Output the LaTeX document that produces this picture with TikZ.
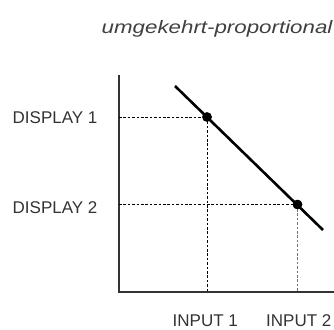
\documentclass[tikz,border=0pt]{standalone}
\usepackage{fontspec}
\setmainfont{Liberation Sans}
\usepackage{graphicx}
\begin{document}
\begin{tikzpicture}[x=1pt,y=-1pt,
  lbl/.style={inner sep=0pt,font=\fontsize{17}{20}\selectfont,text=black!80},
  axis/.style={line width=1.6pt,draw=black!80},
  curve/.style={line width=2.6pt,draw=black},
  guide/.style={line width=0.8pt,dash pattern=on 2.6pt off 1.8pt},
  dot/.style={circle,fill=black,inner sep=0pt,minimum size=9.5pt}]
\useasboundingbox (0,0) rectangle (334,329);
% axes
\coordinate (ytop) at (119,75);
\coordinate (orig) at (119,292);
\coordinate (xend) at (334,292);
\draw[axis] (ytop) -- (orig) -- (xend);
% guides
\node[dot] (p1) at (207,117) {};
\node[dot] (p2) at (297.5,204.5) {};
\coordinate (y1) at (119,117);
\coordinate (y2) at (119,204.5);
\coordinate (x1) at (207,292);
\coordinate (x2) at (297.5,292);
\draw[guide] (y1) -- (p1.center) -- (x1);
\draw[guide] (y2) -- (p2.center);
\draw[guide,draw=black!55] (p2.center) -- (x2);
% line
\coordinate (ls) at (175,86);
\coordinate (le) at (323,230);
\draw[curve] (ls) -- (le);
\node[dot] at (p1) {};
\node[dot] at (p2) {};
% labels
\node[lbl,anchor=west] (d1) at (12.5,117.5) {DISPLAY 1};
\node[lbl,anchor=west] (d2) at (12.5,208) {DISPLAY 2};
\node[lbl,anchor=west] (i1) at (172.5,320.8) {INPUT 1};
\node[lbl,anchor=west] (i2) at (266,320.8) {INPUT 2};
\node[lbl,anchor=base west,text=black!75,font=\fontsize{18}{20}\selectfont] (title) at (101.5,34) {\scalebox{1.24}[1]{\itshape umgekehrt-proportional}};
\end{tikzpicture}
\end{document}
